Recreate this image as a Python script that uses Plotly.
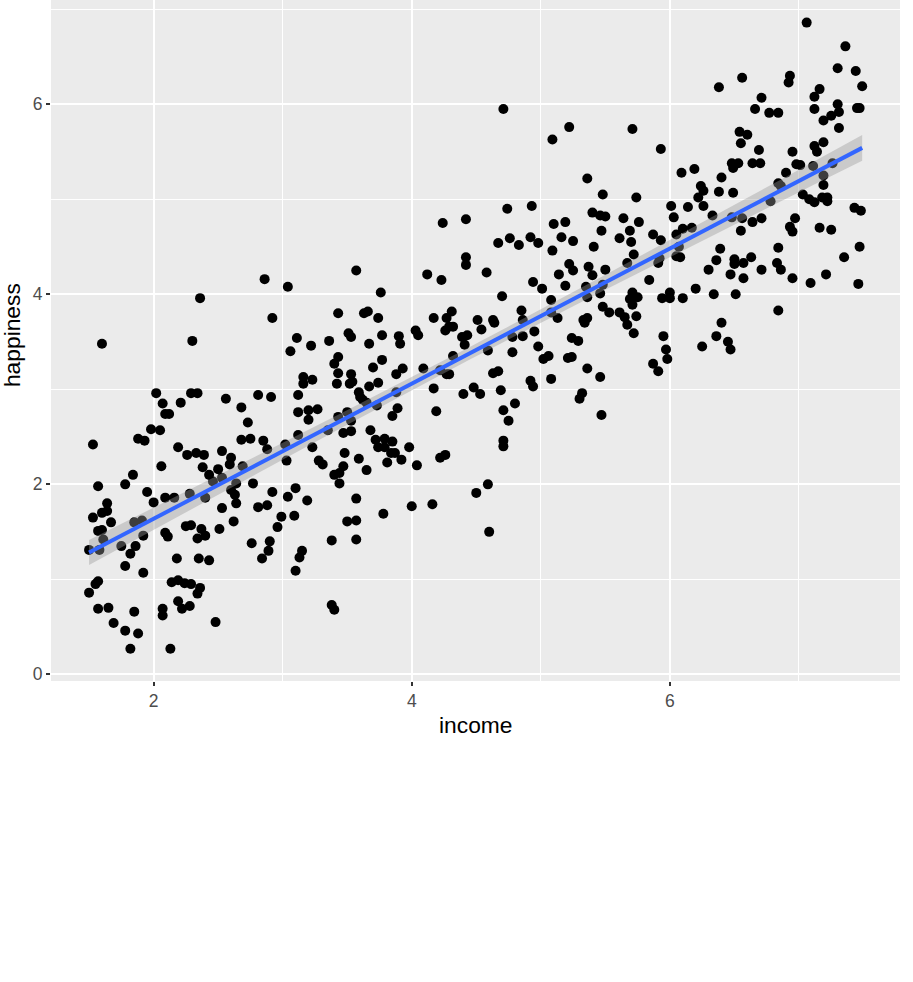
import numpy as np
import plotly.graph_objects as go

income = [
    2.86, 2.36, 2.92, 1.60, 2.30, 2.02, 2.07, 2.21, 2.29, 2.34, 2.56, 2.68, 2.81, 2.91, 2.09, 2.12,
    2.73, 1.98, 2.05, 1.88, 1.93, 1.53, 2.68, 2.75, 2.85, 2.19, 2.26, 2.33, 2.39, 2.53, 2.60, 2.88,
    2.06, 2.38, 2.43, 2.50, 2.59, 2.69, 1.57, 1.78, 1.84, 1.95, 2.00, 2.09, 2.16, 2.28, 2.40, 2.46,
    2.53, 2.60, 2.64, 2.63, 2.64, 2.77, 2.81, 2.88, 2.53, 2.62, 1.64, 1.64, 1.60, 1.53, 1.67, 1.57,
    1.60, 1.61, 1.85, 1.91, 1.92, 2.09, 2.11, 2.25, 2.29, 2.37, 2.34, 2.40, 2.51, 1.50, 1.58, 1.75,
    1.86, 1.82, 1.78, 2.18, 2.35, 2.43, 2.76, 2.90, 2.89, 2.84, 1.92, 1.57, 1.55, 1.50, 2.14, 2.19,
    2.24, 2.29, 2.36, 2.34, 1.57, 1.65, 1.85, 2.07, 2.07, 2.19, 2.22, 2.28, 1.69, 2.48, 1.78, 1.88,
    1.82, 2.13,
    4.42, 4.42, 4.12, 4.23, 4.58, 3.57, 3.04, 3.76, 3.43, 3.63, 3.66, 3.74, 4.31, 4.27, 4.26, 4.29,
    4.32, 4.17, 4.51, 4.54, 4.03, 4.05, 3.11, 3.06, 3.22, 3.36, 3.51, 3.53, 3.77, 3.90, 3.91, 3.67,
    4.39, 4.43, 4.41, 4.59, 3.43, 3.40, 3.43, 3.77, 3.70, 3.93, 3.88, 4.09, 4.32, 4.22, 4.27, 4.29,
    3.16, 3.16, 3.23, 3.53, 3.52, 3.54, 3.42, 3.67, 3.74, 4.17, 4.48, 4.40, 4.53, 3.12, 3.59, 3.60,
    3.62, 3.65, 3.73, 3.88, 4.19, 3.89, 3.85, 3.12, 3.20, 3.27, 3.20, 3.43, 3.50, 3.53, 3.35, 3.47,
    3.53, 3.68, 3.12, 3.02, 3.23, 3.72, 3.79, 3.85, 3.74, 3.79, 3.84, 3.87, 3.98, 3.48, 3.59, 3.28,
    4.22, 4.26, 3.92, 3.03, 3.31, 3.47, 3.65, 3.40, 3.44, 3.44, 3.81, 4.04, 4.59, 4.50, 2.92, 3.10,
    3.04, 3.19, 3.57, 2.99, 3.09, 2.96, 3.50, 3.57, 3.78, 4.00, 4.16, 3.38, 3.57, 3.15, 3.13, 3.10,
    3.38, 3.40, 4.60, 4.24, 4.42,
    4.71, 5.09, 5.22, 5.71, 5.93, 6.09, 6.19, 5.36, 6.24, 6.26, 6.22, 5.48, 5.74, 4.74, 4.93, 6.01,
    6.14, 6.26, 6.03, 5.40, 5.46, 5.50, 5.64, 5.76, 5.10, 5.19, 5.47, 5.69, 6.10, 6.17, 6.05, 4.67,
    4.76, 4.83, 4.92, 4.98, 5.16, 5.25, 5.09, 5.41, 5.61, 5.70, 5.72, 5.87, 5.93, 6.07, 6.08, 6.05,
    5.22, 5.25, 5.14, 5.37, 5.40, 5.50, 5.67, 5.91, 5.92, 6.30, 4.94, 5.01, 5.19, 5.35, 5.36, 5.48,
    5.46, 5.84, 4.70, 5.08, 5.71, 5.69, 5.75, 5.94, 6.00, 6.00, 6.10, 6.20, 5.48, 5.53, 5.61, 5.65,
    5.67, 5.71, 5.74, 4.85, 4.86, 5.08, 5.13, 4.63, 4.64, 5.33, 5.36, 5.34, 5.72, 5.95, 4.78, 4.86,
    4.95, 5.24, 5.29, 6.25, 5.97, 5.98, 4.98, 4.78, 5.02, 5.06, 5.21, 5.24, 5.87, 5.91, 5.36, 5.46,
    5.08, 4.63, 4.67, 4.92, 4.94, 4.69, 5.32, 5.30, 4.80, 4.71, 4.75, 5.47, 4.71, 4.71,
    7.06, 7.36, 7.30, 7.44, 7.49, 6.38, 6.56, 6.93, 6.92, 7.16, 7.12, 6.71, 6.66, 6.77, 6.84, 7.12,
    7.30, 7.31, 7.25, 7.19, 7.45, 7.47, 7.31, 6.54, 6.60, 6.55, 6.69, 7.12, 7.14, 7.19, 6.95, 6.48,
    6.49, 6.53, 6.64, 6.70, 6.98, 7.01, 7.11, 7.26, 6.40, 7.19, 7.19, 6.90, 6.84, 6.86, 6.38, 6.49,
    6.78, 7.03, 7.08, 7.12, 7.18, 7.22, 7.22, 7.43, 7.48, 6.33, 6.48, 6.56, 6.64, 6.71, 6.97, 6.93,
    6.95, 7.16, 7.25, 6.55, 6.39, 6.84, 7.47, 7.35, 6.36, 6.50, 6.50, 6.57, 6.63, 6.71, 6.83, 6.86,
    6.47, 6.57, 6.95, 7.09, 7.21, 7.46, 6.34, 6.51, 6.84, 6.40, 6.36, 6.45, 6.47,
]

happiness = [
    4.16, 3.96, 3.75, 3.48, 3.51, 2.96, 2.85, 2.86, 2.96, 2.96, 2.90, 2.81, 2.94, 2.92, 2.74, 2.74,
    2.65, 2.58, 2.57, 2.48, 2.46, 2.42, 2.47, 2.48, 2.46, 2.39, 2.31, 2.33, 2.31, 2.35, 2.28, 2.37,
    2.19, 2.18, 2.10, 2.16, 2.21, 2.19, 1.98, 2.00, 2.10, 1.92, 1.81, 1.86, 1.86, 1.90, 1.86, 2.03,
    2.07, 1.94, 2.01, 1.89, 1.80, 2.01, 1.76, 1.78, 1.75, 1.61, 1.80, 1.72, 1.70, 1.65, 1.60, 1.51,
    1.52, 1.42, 1.60, 1.62, 1.46, 1.49, 1.45, 1.56, 1.57, 1.53, 1.43, 1.46, 1.53, 1.31, 1.31, 1.35,
    1.35, 1.27, 1.14, 1.22, 1.22, 1.20, 1.38, 1.40, 1.30, 1.22, 1.07, 0.98, 0.95, 0.86, 0.97, 0.99,
    0.96, 0.95, 0.91, 0.85, 0.69, 0.70, 0.66, 0.69, 0.62, 0.77, 0.69, 0.72, 0.54, 0.55, 0.46, 0.43,
    0.27, 0.27,
    4.39, 4.31, 4.21, 4.15, 4.23, 4.25, 4.08, 4.02, 3.80, 3.80, 3.82, 3.75, 3.82, 3.75, 3.62, 3.66,
    3.66, 3.75, 3.73, 3.63, 3.62, 3.57, 3.54, 3.40, 3.46, 3.51, 3.59, 3.55, 3.57, 3.56, 3.48, 3.48,
    3.55, 3.57, 3.47, 3.41, 3.34, 3.27, 3.17, 3.31, 3.23, 3.22, 3.16, 3.22, 3.35, 3.20, 3.16, 3.16,
    3.13, 3.06, 3.10, 3.16, 3.06, 3.08, 3.06, 3.03, 3.07, 3.01, 3.02, 2.95, 2.95, 2.94, 2.97, 2.92,
    2.89, 2.86, 2.83, 2.97, 2.77, 2.80, 2.72, 2.76, 2.78, 2.79, 2.68, 2.71, 2.76, 2.67, 2.57, 2.54,
    2.56, 2.57, 2.52, 2.42, 2.39, 2.47, 2.48, 2.45, 2.39, 2.39, 2.33, 2.33, 2.39, 2.33, 2.27, 2.25,
    2.28, 2.31, 2.26, 2.25, 2.21, 2.19, 2.15, 2.10, 2.12, 2.01, 2.23, 2.20, 2.00, 1.91, 1.92, 1.96,
    1.87, 1.83, 1.85, 1.66, 1.67, 1.55, 1.61, 1.62, 1.69, 1.77, 1.79, 1.41, 1.42, 1.30, 1.23, 1.09,
    0.73, 0.68, 1.50, 4.75, 4.79,
    5.95, 5.63, 5.76, 5.74, 5.53, 5.28, 5.32, 5.22, 5.14, 5.09, 5.02, 5.05, 5.02, 4.90, 4.93, 4.93,
    4.92, 4.93, 4.81, 4.86, 4.83, 4.82, 4.80, 4.76, 4.74, 4.76, 4.67, 4.67, 4.69, 4.70, 4.63, 4.54,
    4.59, 4.52, 4.60, 4.54, 4.60, 4.56, 4.46, 4.50, 4.59, 4.55, 4.42, 4.63, 4.57, 4.50, 4.39, 4.40,
    4.32, 4.25, 4.21, 4.29, 4.20, 4.26, 4.33, 4.33, 4.38, 4.26, 4.13, 4.06, 4.09, 4.08, 3.97, 4.10,
    4.01, 4.15, 3.98, 3.94, 4.02, 3.95, 3.97, 3.96, 4.02, 3.96, 3.96, 4.06, 3.87, 3.81, 3.81, 3.76,
    3.68, 3.89, 3.77, 3.83, 3.73, 3.81, 3.75, 3.73, 3.70, 3.73, 3.75, 3.70, 3.59, 3.56, 3.55, 3.56,
    3.61, 3.54, 3.51, 3.45, 3.42, 3.32, 3.45, 3.39, 3.32, 3.35, 3.33, 3.34, 3.27, 3.19, 3.22, 3.13,
    3.11, 3.17, 3.19, 3.09, 3.03, 2.99, 2.96, 2.90, 2.85, 2.78, 2.67, 2.73, 2.46, 2.40,
    6.86, 6.61, 6.38, 6.35, 6.19, 6.18, 6.28, 6.30, 6.23, 6.16, 6.08, 6.07, 5.95, 5.91, 5.91, 5.95,
    6.00, 5.92, 5.88, 5.83, 5.96, 5.96, 5.75, 5.71, 5.68, 5.59, 5.52, 5.56, 5.50, 5.60, 5.50, 5.38,
    5.33, 5.38, 5.38, 5.38, 5.37, 5.36, 5.35, 5.38, 5.23, 5.25, 5.15, 5.28, 5.17, 5.14, 5.08, 5.07,
    4.98, 5.05, 5.00, 4.97, 5.02, 5.02, 4.98, 4.91, 4.88, 4.83, 4.81, 4.80, 4.76, 4.80, 4.80, 4.71,
    4.66, 4.70, 4.68, 4.67, 4.48, 4.49, 4.50, 4.39, 4.36, 4.37, 4.32, 4.33, 4.39, 4.26, 4.33, 4.26,
    4.21, 4.17, 4.17, 4.12, 4.21, 4.11, 4.00, 4.00, 3.83, 3.70, 3.56, 3.50, 3.42,
]

x_ticks = [2, 4, 6]
y_ticks = [0, 2, 4, 6]
x_title = "income"
y_title = "happiness"
t_975 = 1.965  # t quantile for the 95% confidence band

# ---- linear fit with confidence band (like geom_smooth(method = "lm")) ----
xv = np.array(income)
yv = np.array(happiness)
n = len(xv)
slope, intercept = np.polyfit(xv, yv, 1)
resid = yv - (intercept + slope * xv)
s = np.sqrt(np.sum(resid ** 2) / (n - 2))
xbar = xv.mean()
sxx = np.sum((xv - xbar) ** 2)
xg = np.linspace(xv.min(), xv.max(), 80)
yg = intercept + slope * xg
se = s * np.sqrt(1.0 / n + (xg - xbar) ** 2 / sxx)
lo = yg - t_975 * se
hi = yg + t_975 * se

FONT = "Liberation Sans, Arial, sans-serif"

fig = go.Figure()
fig.add_trace(go.Scatter(
    x=income, y=happiness, mode="markers",
    marker=dict(color="black", size=10, line=dict(width=0)),
    hoverinfo="skip", showlegend=False))
fig.add_trace(go.Scatter(
    x=xg, y=lo, mode="lines", line=dict(width=0, color="rgba(0,0,0,0)"),
    hoverinfo="skip", showlegend=False))
fig.add_trace(go.Scatter(
    x=xg, y=hi, mode="lines", line=dict(width=0, color="rgba(0,0,0,0)"),
    fill="tonexty", fillcolor="rgba(153,153,153,0.4)",
    hoverinfo="skip", showlegend=False))
fig.add_trace(go.Scatter(
    x=xg, y=yg, mode="lines", line=dict(color="#3366FF", width=4),
    hoverinfo="skip", showlegend=False))

axis_common = dict(
    showgrid=True, gridcolor="white", gridwidth=1.8,
    zeroline=False, showline=False, automargin=False,
    ticks="outside", ticklen=4, tickwidth=1.5, tickcolor="#333333",
    tickfont=dict(family=FONT, size=17.5, color="#4D4D4D"),
    minor=dict(dtick=1, showgrid=True, gridcolor="white", gridwidth=0.9, ticks=""),
)

fig.update_layout(
    width=913, height=982,
    margin=dict(l=51, r=13, t=0, b=301, pad=0),
    paper_bgcolor="white", plot_bgcolor="#EBEBEB",
    font=dict(family=FONT),
    xaxis=dict(range=[1.205, 7.783], tickvals=x_ticks, ticktext=[str(v) for v in x_ticks],
               **axis_common),
    yaxis=dict(range=[-0.07, 7.098], tickvals=y_ticks, ticktext=[str(v) for v in y_ticks],
               **axis_common),
    annotations=[
        dict(text=x_title, xref="paper", yref="paper", x=0.5, y=-0.0646,
             xanchor="center", yanchor="middle", showarrow=False,
             font=dict(size=22.8, color="black", family=FONT)),
        dict(text=y_title, xref="paper", yref="paper", x=-0.0459, y=0.508,
             xanchor="center", yanchor="middle", textangle=-90, showarrow=False,
             font=dict(size=22.8, color="black", family=FONT)),
    ],
)

fig.write_html("out.html", config={"displayModeBar": False},
               post_script="document.body.style.margin='0px';")
